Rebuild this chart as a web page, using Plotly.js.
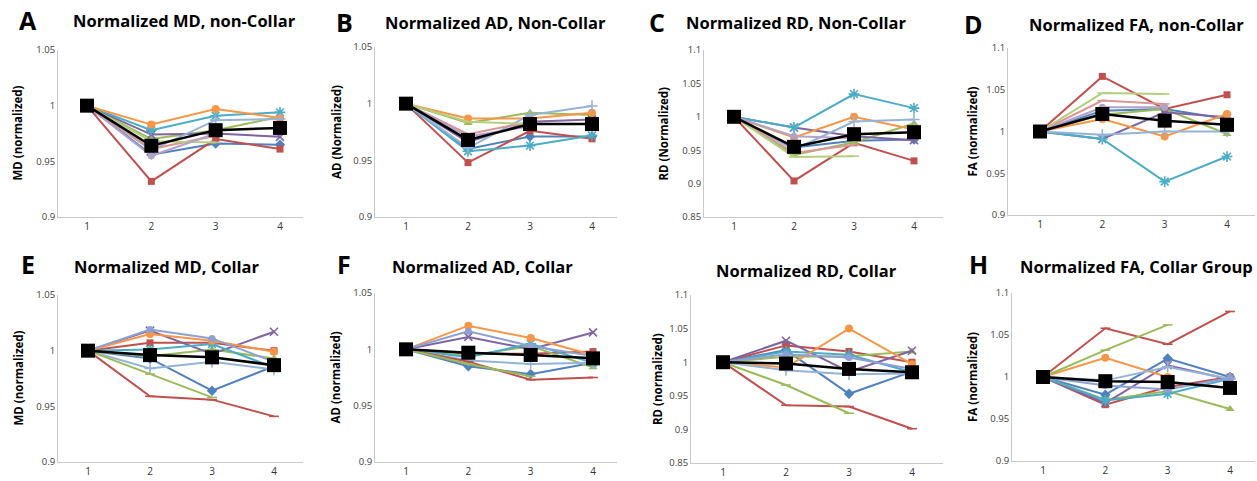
<!DOCTYPE html>
<html>
<head>
<meta charset="utf-8">
<script src="https://cdn.plot.ly/plotly-3.0.1.min.js"></script>
<style>
  html, body { margin: 0; padding: 0; background: #ffffff; }
  #chart { width: 1257px; height: 481px; }
</style>
</head>
<body>
<div id="chart"></div>
<script>
// ---------------- DATA ----------------
const xCategories = [1, 2, 3, 4];
const seriesNames = ['Subject 1', 'Subject 2', 'Subject 3', 'Subject 4', 'Subject 5',
                     'Subject 6', 'Subject 7', 'Subject 8', 'Subject 9', 'Subject 10', 'Mean'];

// A: Normalized MD, non-Collar
const mdNonCollar = [
  [1, 0.956, 0.966, 0.965],
  [1, 0.932, 0.970, 0.961],
  [1, 0.970, 0.978, 0.990],
  [1, 0.974, 0.975, 0.972],
  [1, 0.978, 0.991, 0.994],
  [1, 0.983, 0.997, 0.989],
  [1, 0.960, 0.987, 0.988],
  [1, 0.961, 0.973, null],
  [1, 0.968, 0.967, null],
  [1, 0.955, 0.975, null],
  [1, 0.964, 0.978, 0.980]
];
// B: Normalized AD, Non-Collar
const adNonCollar = [
  [1, 0.960, 0.971, 0.971],
  [1, 0.948, 0.976, 0.969],
  [1, 0.983, 0.992, 0.990],
  [1, 0.966, 0.984, 0.986],
  [1, 0.958, 0.963, 0.972],
  [1, 0.987, 0.987, 0.992],
  [1, 0.961, 0.990, 0.998],
  [1, 0.973, 0.984, null],
  [1, 0.984, 0.982, null],
  [1, 0.971, 0.980, null],
  [1, 0.968, 0.982, 0.982]
];
// C: Normalized RD, Non-Collar
const rdNonCollar = [
  [1, 0.954, 0.964, 0.966],
  [1, 0.904, 0.961, 0.934],
  [1, 0.943, 0.962, 0.990],
  [1, 0.984, 0.971, 0.965],
  [1, 0.984, 1.034, 1.013],
  [1, 0.969, 1.000, 0.981],
  [1, 0.951, 0.993, 0.996],
  [1, 0.946, 0.958, null],
  [1, 0.940, 0.941, null],
  [1, 0.971, 0.968, null],
  [1, 0.955, 0.974, 0.977]
];
// D: Normalized FA, non-Collar
const faNonCollar = [
  [1, 1.025, 1.027, 1.015],
  [1, 1.066, 1.027, 1.044],
  [1, 1.020, 1.027, 0.997],
  [1, 0.991, 1.023, 1.017],
  [1, 0.991, 0.940, 0.970],
  [1, 1.015, 0.994, 1.021],
  [1, 0.996, 1.000, 1.000],
  [1, 1.037, 1.033, null],
  [1, 1.046, 1.045, null],
  [1, 1.029, 1.029, null],
  [1, 1.021, 1.013, 1.008]
];
// E: Normalized MD, Collar
const mdCollar = [
  [1, 0.993, 0.964, 0.986],
  [1, 1.007, 1.007, 1.000],
  [1, 0.995, 1.001, 0.993],
  [1, 1.018, 0.997, 1.017],
  [1, 1.001, 1.006, 0.985],
  [1, 1.015, 1.009, 0.999],
  [1, 0.984, 0.990, 0.983],
  [1, 0.959, 0.956, 0.941],
  [1, 0.979, 0.958, null],
  [1, 1.019, 1.011, 0.990],
  [1, 0.996, 0.994, 0.987]
];
// F: Normalized AD, Collar
const adCollar = [
  [1, 0.985, 0.978, 0.988],
  [1, 0.996, 0.996, 0.998],
  [1, 0.994, 1.003, 0.984],
  [1, 1.011, 1.000, 1.015],
  [1, 0.993, 1.005, 0.988],
  [1, 1.021, 1.010, 0.995],
  [1, 0.990, 0.987, 0.988],
  [1, 0.989, 0.973, 0.975],
  [1, 0.987, 0.976, null],
  [1, 1.016, 1.003, 0.994],
  [1, 0.997, 0.995, 0.992]
];
// G: Normalized RD, Collar
const rdCollar = [
  [1, 1.018, 0.953, 0.986],
  [1, 1.025, 1.016, 1.000],
  [1, 1.008, 1.009, 1.016],
  [1, 1.032, 0.986, 1.017],
  [1, 1.016, 1.011, 0.985],
  [1, 0.992, 1.050, 0.997],
  [1, 0.988, 0.982, 0.983],
  [1, 0.936, 0.934, 0.901],
  [1, 0.966, 0.924, null],
  [1, 1.012, 1.007, 0.990],
  [1, 0.998, 0.990, 0.985]
];
// H: Normalized FA, Collar Group
const faCollar = [
  [1, 0.979, 1.022, 1.000],
  [1, 0.967, 0.988, 1.000],
  [1, 0.973, 0.983, 0.962],
  [1, 0.969, 1.014, 0.997],
  [1, 0.972, 0.980, 0.998],
  [1, 1.023, 1.000, null],
  [1, 0.996, 1.012, 0.998],
  [1, 1.058, 1.039, 1.078],
  [1, 1.032, 1.062, null],
  [1, 0.990, 0.985, 0.999],
  [1, 0.995, 0.994, 0.987]
];

const panelLetters = ['A', 'B', 'C', 'D', 'E', 'F', '', 'H'];
const panelTitles = ['Normalized MD, non-Collar', 'Normalized AD, Non-Collar', 'Normalized RD, Non-Collar',
                     'Normalized FA, non-Collar', 'Normalized MD, Collar', 'Normalized AD, Collar',
                     'Normalized RD, Collar', 'Normalized FA, Collar Group'];
const yTitles = ['MD (normalized)', 'AD (Normalized)', 'RD (Normalized)', 'FA (normalized)',
                 'MD (normalized)', 'AD (normalized)', 'RD (normalized)', 'FA (normalized)'];
const yRanges = [[0.9, 1.05], [0.9, 1.05], [0.85, 1.1], [0.9, 1.1],
                 [0.9, 1.05], [0.9, 1.05], [0.85, 1.1], [0.9, 1.1]];
const panelData = [mdNonCollar, adNonCollar, rdNonCollar, faNonCollar,
                   mdCollar, adCollar, rdCollar, faCollar];

// ---------------- STYLE / LAYOUT ----------------
const W = 1257, H = 481;
// pixel boxes: [axisLeft, axisRight, top(value max), bottom(value min), px of x=1, px of x=4]
const boxes = [
  [58, 303, 50, 217, 87, 280],
  [375, 617, 47, 217, 406, 592],
  [704, 943, 50, 217, 734, 914],
  [1008, 1255, 48, 215, 1040, 1227],
  [58, 303, 295, 462, 88, 274],
  [375, 617, 293, 462, 406, 593],
  [691, 943, 295, 463, 723, 912],
  [1012, 1255, 293, 461, 1043, 1230]
];
const letterPos = [[28, 20], [344, 22], [657, 22], [973, 24], [28, 264], [344, 264], [0, 0], [978, 264]];
const titlePos = [[184, 21], [495, 22], [797, 22], [1136, 24], [166, 266], [482, 266], [806, 270], [1136, 266]];
const yTitleX = [17, 336, 663, 972, 18, 335, 657, 972];

const styles = [
  {color: '#4F81BD', symbol: 'diamond', size: 8},
  {color: '#C0504D', symbol: 'square', size: 7},
  {color: '#9BBB59', symbol: 'triangle-up', size: 8},
  {color: '#8064A2', symbol: 'x-thin-open', size: 8},
  {color: '#4BACC6', symbol: 'asterisk-open', size: 9},
  {color: '#F79646', symbol: 'circle', size: 8},
  {color: '#95B3D7', symbol: 'cross-thin-open', size: 8},
  {color: '#D99694', symbol: 'line-ew-open', size: 7},
  {color: '#B5CF7E', symbol: 'line-ew-open', size: 7},
  {color: '#B3A2C7', symbol: 'circle', size: 7},
  {color: '#000000', symbol: 'square', size: 14}
];
const collarStyleOverride = {7: {color: '#C0504D'}, 8: {color: '#9BBB59'}, 9: {color: '#8EA0D4'}};

const traces = [];
const baseFont = 'Open Sans, Liberation Sans, Arial, sans-serif';
const layout = {
  width: W, height: H,
  margin: {l: 0, r: 0, t: 0, b: 0},
  paper_bgcolor: '#ffffff', plot_bgcolor: 'rgba(0,0,0,0)',
  showlegend: false,
  font: {family: baseFont, color: '#404040'},
  annotations: []
};

panelData.forEach((rows, p) => {
  const ax = p === 0 ? '' : String(p + 1);
  const b = boxes[p];
  const spacing = (b[5] - b[4]) / 3;
  const xr = [1 - (b[4] - b[0]) / spacing, 4 + (b[1] - b[5]) / spacing];
  layout['xaxis' + ax] = {
    domain: [b[0] / W, b[1] / W], range: xr, anchor: 'y' + ax,
    showline: true, linecolor: '#c9c9c9', linewidth: 1, showgrid: false, zeroline: false,
    ticks: '', tickvals: xCategories, ticktext: xCategories.map(String),
    tickfont: {size: 10, color: '#333333', family: baseFont}, fixedrange: true
  };
  layout['yaxis' + ax] = {
    domain: [1 - b[3] / H, 1 - b[2] / H], range: yRanges[p], anchor: 'x' + ax,
    showline: true, linecolor: '#c9c9c9', linewidth: 1, showgrid: false, zeroline: false,
    ticks: '', dtick: 0.05, tick0: 0.85,
    tickfont: {size: 9.5, color: '#404040', family: baseFont}, fixedrange: true
  };
  rows.forEach((vals, s) => {
    let st = Object.assign({}, styles[s]);
    if (p >= 4 && collarStyleOverride[s]) st = Object.assign(st, collarStyleOverride[s]);
    const isMean = s === rows.length - 1;
    const open = st.symbol.indexOf('open') >= 0;
    traces.push({
      type: 'scatter', mode: 'lines+markers',
      x: xCategories, y: vals, name: seriesNames[s],
      xaxis: 'x' + ax, yaxis: 'y' + ax,
      connectgaps: false,
      line: {color: st.color, width: isMean ? 2.5 : 2},
      marker: {symbol: st.symbol, size: st.size, color: st.color,
               line: {color: isMean ? '#000000' : st.color, width: open ? 1.6 : 0}},
      hoverinfo: 'skip'
    });
  });
  if (panelLetters[p]) {
    layout.annotations.push({
      xref: 'paper', yref: 'paper', x: letterPos[p][0] / W, y: 1 - letterPos[p][1] / H,
      text: '<b>' + panelLetters[p] + '</b>', showarrow: false, xanchor: 'center', yanchor: 'middle',
      font: {size: 25, color: '#000000', family: baseFont}
    });
  }
  layout.annotations.push({
    xref: 'paper', yref: 'paper', x: titlePos[p][0] / W, y: 1 - titlePos[p][1] / H,
    text: '<b>' + panelTitles[p] + '</b>', showarrow: false, xanchor: 'center', yanchor: 'middle',
    font: {size: 16.5, color: '#000000', family: baseFont}
  });
  layout.annotations.push({
    xref: 'paper', yref: 'paper', x: yTitleX[p] / W, y: 1 - ((b[2] + b[3]) / 2) / H,
    text: '<b>' + yTitles[p] + '</b>', showarrow: false, textangle: -90,
    xanchor: 'center', yanchor: 'middle',
    font: {size: 11.5, color: '#000000', family: baseFont}
  });
});

Plotly.newPlot('chart', traces, layout, {displayModeBar: false, staticPlot: true});
</script>
</body>
</html>
